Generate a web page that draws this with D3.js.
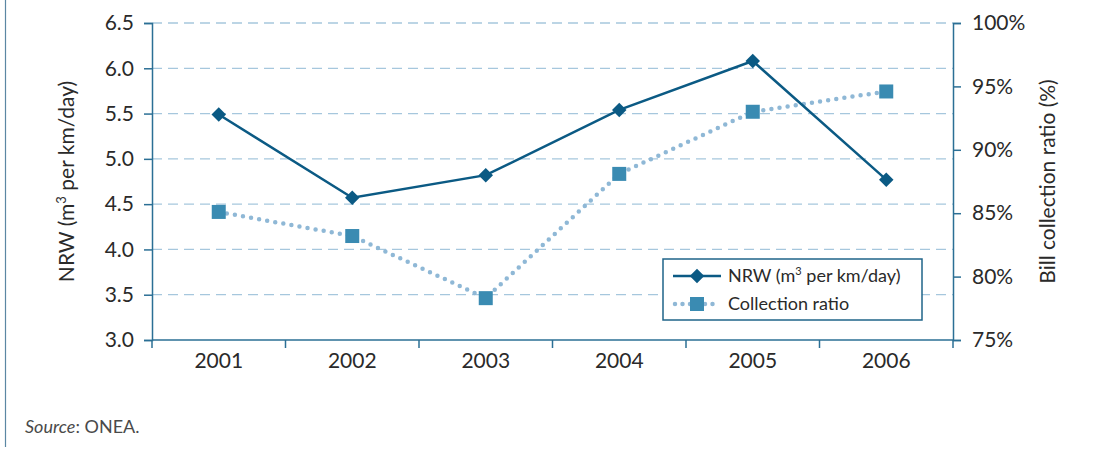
<!DOCTYPE html>
<html>
<head>
<meta charset="utf-8">
<script src="https://d3js.org/d3.v7.min.js"></script>
<style>
body { margin: 0; background: #fff; }
text { font-family: "Lato", "Open Sans", sans-serif; }
</style>
</head>
<body>
<svg id="chart" width="1104" height="453"></svg>
<script>
// data
const years = ["2001", "2002", "2003", "2004", "2005", "2006"];
const nrw = [5.49, 4.57, 4.82, 5.54, 6.08, 4.77];
const collection = [85.1, 83.2, 78.3, 88.1, 93.0, 94.6];
const leftTicks = [3.0, 3.5, 4.0, 4.5, 5.0, 5.5, 6.0, 6.5];
const rightTicks = [75, 80, 85, 90, 95, 100];

const svg = d3.select("#chart");
const axisColor = "#2b6f95";
const dark = "#0b5a84";
const light = "#8fb8d6";
const square = "#3a8bb2";
const textColor = "#2a2a2a";

const plotLeft = 152, plotRight = 953, plotTop = 23, plotBottom = 340;

const x = d3.scaleBand().domain(years).range([plotLeft, plotRight]);
const yL = d3.scaleLinear().domain([3, 6.5]).range([plotBottom, plotTop]);
const yR = d3.scaleLinear().domain([75, 100]).range([plotBottom, plotTop]);

// left frame line
svg.append("line").attr("x1", 5.5).attr("x2", 5.5).attr("y1", 0).attr("y2", 447)
   .attr("stroke", "#5b87a3").attr("stroke-width", 1.2);

// gridlines
svg.append("g").selectAll("line").data(leftTicks.filter(d => d > 3)).join("line")
   .attr("x1", plotLeft).attr("x2", plotRight)
   .attr("y1", d => yL(d)).attr("y2", d => yL(d))
   .attr("stroke", "#a6c7dd").attr("stroke-width", 1.3)
   .attr("stroke-dasharray", "10,6");

// left axis
const gL = svg.append("g").attr("transform", `translate(${plotLeft},0)`)
   .call(d3.axisLeft(yL).tickValues(leftTicks).tickFormat(d3.format(".1f")).tickSize(8).tickPadding(10));
// right axis
const gR = svg.append("g").attr("transform", `translate(${plotRight},0)`)
   .call(d3.axisRight(yR).tickValues(rightTicks).tickFormat(d => d + "%").tickSize(8).tickPadding(11));
// bottom axis (ticks at band edges)
const gB = svg.append("g").attr("transform", `translate(0,${plotBottom})`)
   .call(d3.axisBottom(x).tickSize(0).tickPadding(13));
gB.selectAll(".edge").data(d3.range(years.length + 1)).join("line")
   .attr("class", "edge")
   .attr("x1", i => plotLeft + i * x.step()).attr("x2", i => plotLeft + i * x.step())
   .attr("y1", 0).attr("y2", 8);

[gL, gR, gB].forEach(g => {
  g.selectAll(".domain").attr("stroke", axisColor).attr("stroke-width", 1.5);
  g.selectAll("line").attr("stroke", axisColor).attr("stroke-width", 1.5);
  g.selectAll("text").attr("font-size", 21).attr("fill", textColor)
   .style("font-family", "Lato, 'Open Sans', sans-serif");
});
gB.select(".domain").attr("d", `M${plotLeft},0H${plotRight}`);

// axis titles
svg.append("text").attr("transform", `translate(74,${(plotTop + plotBottom) / 2}) rotate(-90)`)
   .attr("text-anchor", "middle").attr("font-size", 21).attr("fill", textColor)
   .html('NRW (m<tspan dy="-8" font-size="13">3</tspan><tspan dy="8"> per km/day)</tspan>');
svg.append("text").attr("transform", `translate(1055,${(plotTop + plotBottom) / 2}) rotate(-90)`)
   .attr("text-anchor", "middle").attr("font-size", 21).attr("fill", textColor)
   .text("Bill collection ratio (%)");

const cx = d => x(d) + x.bandwidth() / 2;

// collection ratio line
svg.append("path").datum(collection)
   .attr("d", d3.line().x((d, i) => cx(years[i])).y(d => yR(d)))
   .attr("fill", "none").attr("stroke", light).attr("stroke-width", 4.5)
   .attr("stroke-linecap", "round").attr("stroke-dasharray", "0,8.2");
svg.append("g").selectAll("rect").data(collection).join("rect")
   .attr("x", (d, i) => cx(years[i]) - 7).attr("y", d => yR(d) - 7)
   .attr("width", 14).attr("height", 14).attr("fill", square);

// NRW line
svg.append("path").datum(nrw)
   .attr("d", d3.line().x((d, i) => cx(years[i])).y(d => yL(d)))
   .attr("fill", "none").attr("stroke", dark).attr("stroke-width", 2.5);
svg.append("g").selectAll("path").data(nrw).join("path")
   .attr("d", d3.symbol().type(d3.symbolDiamond2).size(135))
   .attr("transform", (d, i) => `translate(${cx(years[i])},${yL(d)})`)
   .attr("fill", dark);

// legend
const lg = svg.append("g").attr("transform", "translate(663,259)");
lg.append("rect").attr("width", 259).attr("height", 61).attr("fill", "#fff")
  .attr("stroke", "#1f6489").attr("stroke-width", 1.5);
lg.append("line").attr("x1", 10).attr("x2", 58).attr("y1", 17).attr("y2", 17)
  .attr("stroke", dark).attr("stroke-width", 2.5);
lg.append("path").attr("d", d3.symbol().type(d3.symbolDiamond2).size(135))
  .attr("transform", "translate(34,17)").attr("fill", dark);
lg.append("text").attr("x", 65).attr("y", 23).attr("font-size", 18).attr("fill", textColor)
  .html('NRW (m<tspan dy="-7" font-size="11">3</tspan><tspan dy="7"> per km/day)</tspan>');
lg.append("line").attr("x1", 12).attr("x2", 56).attr("y1", 45).attr("y2", 45)
  .attr("stroke", light).attr("stroke-width", 4.5).attr("stroke-linecap", "round")
  .attr("stroke-dasharray", "0,7.5");
lg.append("rect").attr("x", 27).attr("y", 38).attr("width", 14).attr("height", 14).attr("fill", square);
lg.append("text").attr("x", 65).attr("y", 51).attr("font-size", 18).attr("fill", textColor)
  .text("Collection ratio");

// source
svg.append("text").attr("x", 25).attr("y", 433).attr("font-size", 18).attr("fill", "#4a4a4a")
   .html('<tspan font-style="italic">Source</tspan>: ONEA.');
</script>
</body>
</html>
